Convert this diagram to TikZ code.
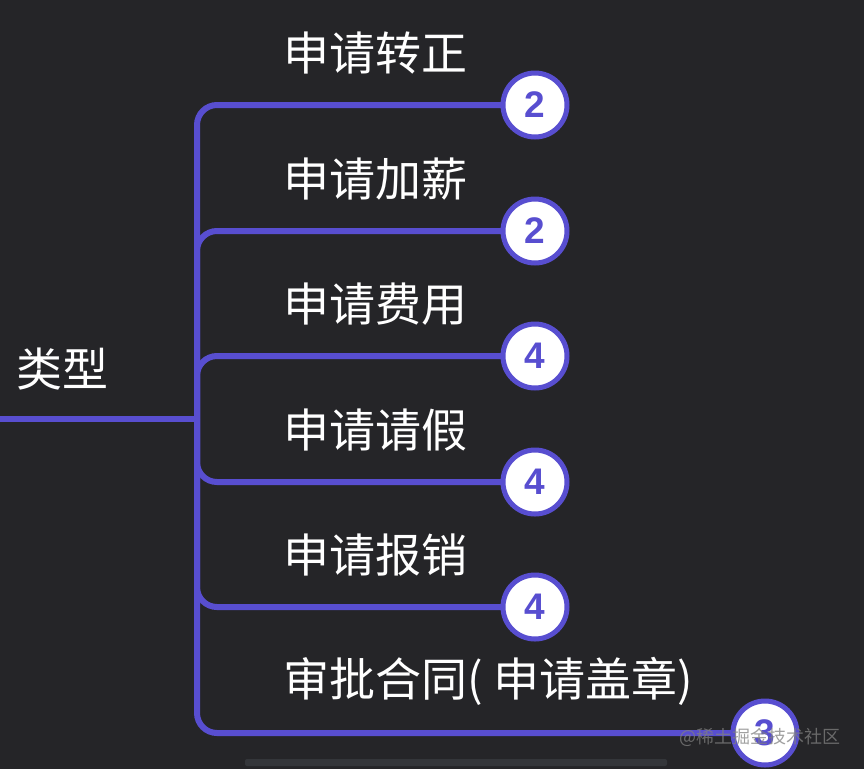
\documentclass[tikz,border=0pt]{standalone}
\usepackage{fontspec}
\setmainfont{Noto Sans CJK SC}
\newfontfamily\numfont{Liberation Sans}
\definecolor{bgdark}{RGB}{37,37,40}
\definecolor{linepurple}{RGB}{88,78,208}
\definecolor{bargray}{RGB}{52,54,58}

\begin{document}
\begin{tikzpicture}[x=1pt, y=-1pt,
    every node/.style={inner sep=0pt},
    branch/.style={draw=linepurple, line width=6pt, rounded corners=20pt},
    topic/.style={anchor=west, text=white, font=\fontsize{46}{54}\selectfont},
    badge/.style={circle, fill=white, draw=linepurple, line width=5pt,
      minimum size=64pt, text=linepurple, font=\numfont\bfseries\fontsize{37}{40}\selectfont}]
    \fill[bgdark] (0,0) rectangle (864,769);
    \useasboundingbox (0,0) rectangle (864,769);

    \node[topic] (root) at (16,369) {类型};
    \coordinate (start) at (-5,419);
    \coordinate (fork) at (197,419);

    \node[topic] (t1) at (283,53) {申请转正};
    \node[topic] (t2) at (283,179) {申请加薪};
    \node[topic] (t3) at (283,304) {申请费用};
    \node[topic] (t4) at (283,430) {申请请假};
    \node[topic] (t5) at (283,555) {申请报销};
    \node[topic] (t6) at (283,681) {审批合同( 申请盖章)};

    \draw[branch] (start) -- (fork);
    \draw[branch] (fork) |- (535,105) coordinate (e1);
    \draw[branch] (fork) |- (535,231) coordinate (e2);
    \draw[branch] (fork) |- (535,356) coordinate (e3);
    \draw[branch] (fork) |- (535,482) coordinate (e4);
    \draw[branch] (fork) |- (535,607) coordinate (e5);
    \draw[branch] (fork) |- (765,733) coordinate (e6);

    \node[badge] (b1) at (e1) {2};
    \node[badge] (b2) at (e2) {2};
    \node[badge] (b3) at (e3) {4};
    \node[badge] (b4) at (e4) {4};
    \node[badge] (b5) at (e5) {4};
    \node[badge] (b6) at (e6) {3};

    % watermark and scroll bar
    \node[text=gray, opacity=0.75, anchor=west, font=\fontsize{18}{20}\selectfont]
      (mark) at (679,737) {@稀土掘金技术社区};
    \fill[bargray, rounded corners=2pt] (245,759) rectangle (667,766);
\end{tikzpicture}
\end{document}
